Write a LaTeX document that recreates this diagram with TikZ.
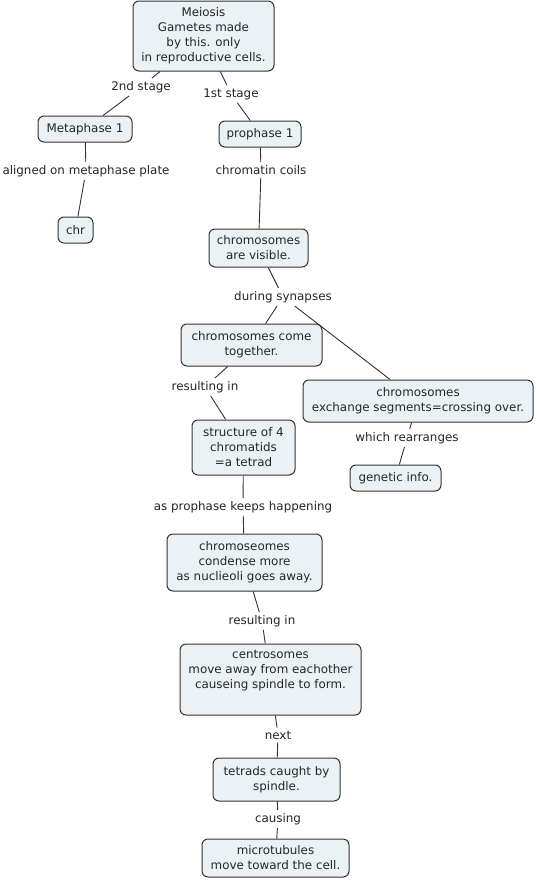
\documentclass[tikz,border=0pt]{standalone}
\usepackage{fontspec}
\setmainfont{DejaVu Sans}
\definecolor{boxfill}{HTML}{EBF2F5}
\definecolor{lineclr}{HTML}{333333}
\begin{document}
\begin{tikzpicture}[x=1pt,y=-1pt,
  box/.style={draw=lineclr,line width=1pt,fill=boxfill,rounded corners=6pt,align=center,inner sep=0pt,
    font=\fontsize{11.9}{15}\selectfont,text=black!85},
  lbl/.style={align=center,inner sep=3pt,font=\fontsize{11.9}{15}\selectfont,text=black!85},
  con/.style={draw=lineclr,line width=0.9pt}]
\useasboundingbox (0,0) rectangle (536,881);
\fill[white] (0,0) rectangle (536,881);
% boxes
\node[box,minimum width=141pt,minimum height=70pt] (meiosis) at (203.5,36) {Meiosis\\Gametes made\\by this. only\\in reproductive cells.};
\node[box,minimum width=94pt,minimum height=26pt] (meta) at (85,129) {Metaphase 1};
\node[box,minimum width=35pt,minimum height=26pt] (chr) at (75.5,230) {chr};
\node[box,minimum width=82pt,minimum height=26pt] (pro) at (260,134) {prophase 1};
\node[box,minimum width=99pt,minimum height=38pt] (vis) at (258.5,248) {chromosomes\\are visible.};
\node[box,minimum width=141pt,minimum height=42pt] (come) at (251.5,345) {chromosomes come\\together.};
\node[box,minimum width=230pt,minimum height=42pt] (exch) at (418,401) {chromosomes\\exchange segments=crossing over.};
\node[box,minimum width=91pt,minimum height=26pt] (gen) at (395.5,478) {genetic info.};
\node[box,minimum width=103pt,minimum height=55pt] (tet) at (243.5,447.5) {structure of 4\\chromatids\\=a tetrad};
\node[box,minimum width=155pt,minimum height=57pt] (cond) at (244.5,562.5) {chromoseomes\\condense more\\as nuclieoli goes away.};
\node[box,minimum width=181pt,minimum height=71pt] (centro) at (270.5,679.5) {centrosomes\\move away from eachother\\causeing spindle to form.\\\strut};
\node[box,minimum width=127pt,minimum height=43pt] (caught) at (276.5,779.5) {tetrads caught by\\spindle.};
\node[box,minimum width=147pt,minimum height=38pt] (micro) at (275.5,858) {microtubules\\move toward the cell.};
% labels
\node[lbl] (l2nd) at (141,87) {2nd stage};
\node[lbl] (l1st) at (231,94) {1st stage};
\node[lbl] (lalign) at (86,171) {aligned on metaphase plate};
\node[lbl] (lcoil) at (261,170) {chromatin coils};
\node[lbl] (lsyn) at (283,297) {during synapses};
\node[lbl] (lres1) at (205,387) {resulting in};
\node[lbl] (lre) at (407,438) {which rearranges};
\node[lbl] (lkeep) at (243,507) {as prophase keeps happening};
\node[lbl] (lres2) at (262,621) {resulting in};
\node[lbl] (lnext) at (278,735) {next};
\node[lbl] (lcaus) at (278,819) {causing};
% connectors
\draw[con] (meiosis) -- (l2nd) -- (meta);
\draw[con] (meiosis) -- (l1st) -- (pro);
\draw[con] (meta) -- (lalign) -- (chr);
\draw[con] (pro) -- (lcoil) -- (vis);
\draw[con] (vis) -- (lsyn) -- (come);
\draw[con] (lsyn) -- (exch);
\draw[con] (come) -- (lres1) -- (tet);
\draw[con] (exch) -- (lre) -- (gen);
\draw[con] (tet) -- (lkeep) -- (cond);
\draw[con] (cond) -- (lres2) -- (centro);
\draw[con] (centro) -- (lnext) -- (caught);
\draw[con] (caught) -- (lcaus) -- (micro);
\end{tikzpicture}
\end{document}
